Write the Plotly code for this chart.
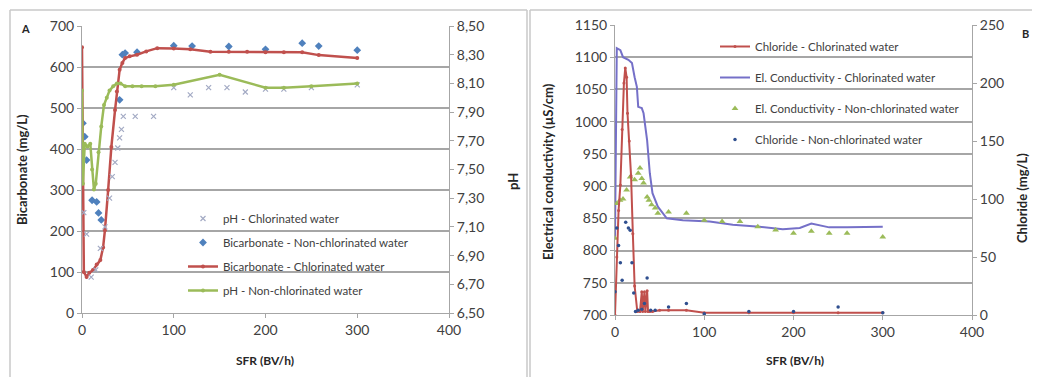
import plotly.graph_objects as go

# page is 1040x385; body has an 8px default margin, so the figure sits at (8,8)
PAGE_W, PAGE_H = 1040, 385
OFF = 8
W, H = PAGE_W - 2 * OFF, PAGE_H - 2 * OFF

# ---------------- Panel A data ----------------
bic_chl_x = [0, 2, 5, 8, 12, 16, 20, 23, 25, 28.5, 32, 36, 38, 41, 44, 47, 52, 60, 70, 82, 100, 118, 140, 160, 180, 200, 220, 240, 258, 300]
bic_chl_y = [648, 100, 88, 98, 105, 118, 129, 160, 202, 300, 405, 495, 540, 593, 610, 622, 626, 630, 638, 646, 645, 643, 637, 637, 637, 636, 636, 636, 629, 622]

bic_non_x = [1, 3, 5, 11, 16, 18, 21, 41, 44, 47, 60, 100, 120, 160, 200, 240, 258, 300]
bic_non_y = [463, 430, 373, 275, 271, 244, 227, 520, 630, 634, 636, 652, 651, 650, 643, 658, 651, 641]

ph_non_x = [0, 1, 3, 6, 9, 11, 13, 15, 18, 21, 24, 27, 30, 34, 38, 42, 47, 55, 65, 80, 100, 150, 200, 220, 250, 300]
ph_non_y = [8.05, 7.40, 7.68, 7.66, 7.68, 7.50, 7.36, 7.40, 7.62, 7.80, 7.95, 8.00, 8.05, 8.08, 8.10, 8.10, 8.08, 8.08, 8.08, 8.08, 8.09, 8.16, 8.07, 8.07, 8.08, 8.10]

ph_chl_x = [2, 5, 10, 15, 20, 25, 30, 33, 36, 39, 41, 43, 45, 58, 78, 100, 118, 138, 158, 178, 200, 220, 250, 300]
ph_chl_y = [7.20, 7.05, 6.75, 6.80, 6.95, 7.10, 7.30, 7.45, 7.55, 7.65, 7.72, 7.78, 7.87, 7.87, 7.87, 8.07, 8.02, 8.07, 8.07, 8.04, 8.06, 8.06, 8.07, 8.09]

ph_ticks = [6.5, 6.7, 6.9, 7.1, 7.3, 7.5, 7.7, 7.9, 8.1, 8.3, 8.5]
ph_ticktext = ["6,50", "6,70", "6,90", "7,10", "7,30", "7,50", "7,70", "7,90", "8,10", "8,30", "8,50"]

# ---------------- Panel B data ----------------
ec_chl_x = [0, 1, 2, 6, 9, 15, 19, 22, 24.5, 26, 30, 32, 36, 39, 42, 48, 58, 76, 106, 132, 162, 188, 207, 220, 240, 260, 300]
ec_chl_y = [820, 1000, 1114, 1111, 1100, 1096, 1091, 1069, 1054, 1023, 1021, 1013, 971, 920, 889, 868, 850, 847, 845, 840, 837, 833, 835, 842, 836, 836, 837]

ec_non_x = [0, 2, 5.6, 9, 13, 17, 22, 26, 28, 30, 32, 36, 38, 41, 45, 48, 60, 80, 100, 120, 140, 160, 180, 200, 220, 240, 260, 300]
ec_non_y = [819, 873, 878, 880, 894, 914, 910, 920, 928, 912, 905, 883, 878, 871, 866, 858, 860, 858, 847, 845, 845, 837, 832, 827, 830, 827, 827, 821]

cl_chl_x = [0, 2, 4, 6, 8, 10, 11.5, 13, 14, 16, 18, 20, 22, 25, 28, 30, 31, 33, 34, 36, 37, 39, 42, 50, 60, 80, 100, 150, 200, 250, 300]
cl_chl_y = [0, 50, 90, 112, 160, 200, 213, 205, 174, 150, 120, 70, 25, 3, 3, 20, 3, 20, 3, 21, 3, 3, 3, 4, 4, 4, 2, 2, 2, 2, 2]

cl_non_x = [0, 2, 4, 6, 8, 12, 15, 17, 19, 21, 23, 26, 30, 33, 36, 40, 45, 60, 80, 100, 150, 200, 250, 300]
cl_non_y = [20, 75, 60, 45, 30, 80, 75, 73, 45, 19, 3, 4, 5, 10, 32, 4, 4, 7, 10, 1, 3, 3, 7, 2]

RED = "#c0504d"
GREEN = "#9bbb59"
BLUE = "#4f81bd"
PURPLE = "#7570c8"
GREYX = "#a3aac4"
FONT = "Lato"
TXT = "#404040"
GRID = "#a6a6a6"

fig = go.Figure()

# Panel A traces (legend order)
fig.add_trace(go.Scatter(x=ph_chl_x, y=ph_chl_y, mode="markers", name="pH - Chlorinated water",
                         marker=dict(symbol="x-thin", size=5, line=dict(width=1.2, color=GREYX), color=GREYX),
                         xaxis="x", yaxis="y2", legend="legend", legendgroup="a1"))
fig.add_trace(go.Scatter(x=bic_non_x, y=bic_non_y, mode="markers", name="Bicarbonate - Non-chlorinated water",
                         marker=dict(symbol="diamond", size=6, color=BLUE),
                         xaxis="x", yaxis="y", legend="legend", legendgroup="a2"))
fig.add_trace(go.Scatter(x=bic_chl_x, y=bic_chl_y, mode="lines+markers", name="Bicarbonate - Chlorinated water",
                         line=dict(color=RED, width=2.5), marker=dict(size=4, color=RED),
                         xaxis="x", yaxis="y", legend="legend", legendgroup="a3"))
fig.add_trace(go.Scatter(x=ph_non_x, y=ph_non_y, mode="lines+markers", name="pH - Non-chlorinated water",
                         line=dict(color=GREEN, width=2.5), marker=dict(size=4, color=GREEN),
                         xaxis="x", yaxis="y2", legend="legend", legendgroup="a4"))

# Panel B traces
fig.add_trace(go.Scatter(x=cl_chl_x, y=cl_chl_y, mode="lines+markers", name="Chloride - Chlorinated water",
                         line=dict(color=RED, width=2), marker=dict(size=3, color=RED),
                         xaxis="x2", yaxis="y4", legend="legend2", legendgroup="b1"))
fig.add_trace(go.Scatter(x=ec_chl_x, y=ec_chl_y, mode="lines", name="El. Conductivity - Chlorinated water",
                         line=dict(color=PURPLE, width=2),
                         xaxis="x2", yaxis="y3", legend="legend2", legendgroup="b2"))
fig.add_trace(go.Scatter(x=ec_non_x, y=ec_non_y, mode="markers", name="El. Conductivity - Non-chlorinated water",
                         marker=dict(symbol="triangle-up", size=6, color=GREEN),
                         xaxis="x2", yaxis="y3", legend="legend2", legendgroup="b3"))
fig.add_trace(go.Scatter(x=cl_non_x, y=cl_non_y, mode="markers", name="Chloride - Non-chlorinated water",
                         marker=dict(symbol="circle", size=3.5, color="#2f4f8f"),
                         xaxis="x2", yaxis="y4", legend="legend2", legendgroup="b4"))

tickfont = dict(family=FONT, size=14, color=TXT)

def px_x(p):
    # page pixel -> paper fraction
    return (p - OFF) / W

def px_y(p):
    return 1 - (p - OFF) / H

axis_common = dict(showline=True, linecolor=GRID, linewidth=1, ticks="outside", ticklen=4,
                   tickcolor=GRID, tickfont=tickfont, zeroline=False, automargin=False)

fig.update_layout(
    width=W, height=H,
    margin=dict(l=0, r=0, t=0, b=0, autoexpand=False),
    paper_bgcolor="white", plot_bgcolor="white",
    font=dict(family=FONT, color=TXT),
    xaxis=dict(domain=[px_x(82), px_x(449)], range=[0, 400], dtick=100, anchor="y",
               showgrid=False, **axis_common),
    yaxis=dict(domain=[px_y(313), px_y(26)], range=[0, 700], dtick=100, anchor="x",
               showgrid=True, gridcolor=GRID, gridwidth=1.5, **axis_common),
    yaxis2=dict(range=[6.5, 8.5], tickvals=ph_ticks, ticktext=ph_ticktext, overlaying="y",
                side="right", anchor="x", showgrid=False, **axis_common),
    xaxis2=dict(domain=[px_x(615), px_x(972)], range=[0, 400], dtick=100, anchor="y3",
                showgrid=False, **axis_common),
    yaxis3=dict(domain=[px_y(315), px_y(25)], range=[700, 1150], dtick=50, anchor="x2",
                showgrid=True, gridcolor=GRID, gridwidth=1.5, **axis_common),
    yaxis4=dict(range=[0, 250], dtick=50, overlaying="y3", side="right", anchor="x2",
                showgrid=False, **axis_common),
    legend=dict(x=px_x(183), y=px_y(204), xanchor="left", yanchor="top", bgcolor="rgba(0,0,0,0)",
                font=dict(family=FONT, size=11.5, color=TXT), tracegroupgap=5, itemwidth=30),
    legend2=dict(x=px_x(715), y=px_y(32), xanchor="left", yanchor="top", bgcolor="rgba(0,0,0,0)",
                 font=dict(family=FONT, size=11.5, color=TXT), tracegroupgap=12, itemwidth=30),
    showlegend=True,
)

ann = [
    dict(text="<b>Bicarbonate (mg/L)</b>", x=px_x(22), y=px_y(170), textangle=-90, size=13),
    dict(text="<b>pH</b>", x=px_x(513), y=px_y(182), textangle=-90, size=13),
    dict(text="<b>SFR (BV/h)</b>", x=px_x(265), y=px_y(360), textangle=0, size=12),
    dict(text="<b>Electrical conductivity (µS/cm)</b>", x=px_x(548), y=px_y(172), textangle=-90, size=13),
    dict(text="<b>Chloride (mg/L)</b>", x=px_x(1022), y=px_y(198), textangle=-90, size=13),
    dict(text="<b>SFR (BV/h)</b>", x=px_x(795), y=px_y(360), textangle=0, size=12),
    dict(text="<b>A</b>", x=px_x(25), y=px_y(29), textangle=0, size=11),
    dict(text="<b>B</b>", x=px_x(1025), y=px_y(33), textangle=0, size=11),
]
for a in ann:
    fig.add_annotation(text=a["text"], x=a["x"], y=a["y"], xref="paper", yref="paper",
                       showarrow=False, textangle=a["textangle"], xanchor="center", yanchor="middle",
                       font=dict(family=FONT, size=a["size"], color="#262626"))

FRAME = "#c8c8c8"
frame_lines = [
    (10, 10, 527, 10), (530, 10, 1032, 10),
    (10, 10, 10, 377), (527, 10, 527, 377), (530, 10, 530, 377),
]
for x0, y0, x1, y1 in frame_lines:
    fig.add_shape(type="line", xref="paper", yref="paper", x0=px_x(x0), x1=px_x(x1),
                  y0=px_y(y0), y1=px_y(y1), line=dict(color=FRAME, width=1.5))

fig.write_html("out.html", config={"displayModeBar": False})
